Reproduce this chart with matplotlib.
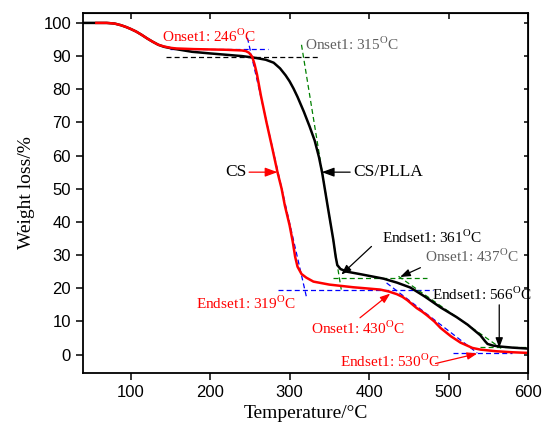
import matplotlib
matplotlib.use("Agg")
import matplotlib.pyplot as plt

plt.rcParams['font.family'] = ['Liberation Serif', 'DejaVu Serif']
plt.rcParams['mathtext.fontset'] = 'custom'
plt.rcParams['mathtext.rm'] = 'Liberation Serif'

# ---- data ----
cs_T = [57, 70, 80, 88, 94, 100, 107, 114, 121, 128, 135, 142, 150, 157, 180, 200, 220,
        240, 245, 249, 253, 256, 259, 264, 271, 278, 285, 290, 294, 300, 304, 307, 310,
        315, 321, 330, 350, 380, 414, 425, 435, 442, 448, 455, 460, 467, 473, 482, 490,
        503, 515, 530, 540, 560, 580, 600]
cs_W = [100, 100, 99.8, 99.3, 98.8, 98.2, 97.4, 96.4, 95.3, 94.3, 93.4, 92.9, 92.5, 92.3,
        92.1, 92.0, 91.9, 91.7, 91.5, 91.0, 89.8, 87.5, 84.5, 78, 70, 62.5, 54.8, 50, 45,
        39, 34, 29.5, 26.5, 24.3, 23.2, 22.0, 21.1, 20.3, 19.6, 19.0, 18.2, 17.4, 16.4,
        15.0, 14.0, 12.9, 11.8, 10.0, 8.0, 5.5, 3.6, 2.0, 1.5, 1.0, 0.7, 0.5]

pl_T = [40, 70, 80, 88, 94, 100, 107, 114, 121, 128, 135, 142, 150, 157, 177, 200, 220,
        240, 256, 270, 280, 288, 295, 300, 305, 310, 318, 325, 331.6, 337, 341, 348, 355,
        358, 360, 364, 372, 390, 418, 435, 452, 470, 490, 510, 524, 540, 546, 549, 556,
        566, 580, 600]
pl_W = [100, 100, 99.8, 99.3, 98.8, 98.2, 97.4, 96.4, 95.3, 94.3, 93.4, 92.8, 92.4, 92.1,
        91.3, 90.8, 90.4, 90.0, 89.5, 88.9, 88.0, 86.3, 84.2, 82.4, 80.2, 77.7, 73.2,
        68.9, 64.5, 59.5, 54.8, 44.6, 34.6, 29.5, 27, 25.8, 25, 24.2, 22.9, 21.7, 20.2,
        17.5, 14.2, 11.3, 9.0, 5.8, 4.0, 3.2, 2.7, 2.4, 2.1, 1.8]

# construction (tangent / baseline) lines: (T0, W0, T1, W1)
blue_lines = [(150, 92.1, 273, 92.1),
              (247, 95.5, 321, 17.6),
              (285, 19.5, 480, 19.5),
              (422, 21.6, 536, 0.5),
              (506, 0.4, 580, 0.4)]
black_lines = [(144, 89.6, 338, 89.6)]
green_lines = [(315, 93.4, 365, 19.6),
               (354, 23.1, 473, 23.1),
               (437, 23.6, 566, 1.9),
               (540, 2.2, 597, 2.2)]

fig = plt.figure(figsize=(5.45, 4.32), dpi=100)
ax = fig.add_axes([0.152, 0.137, 0.817, 0.833])

dash = (0, (4, 2.5))
for x0, y0, x1, y1 in blue_lines:
    ax.plot([x0, x1], [y0, y1], color='#0000ff', lw=0.9, linestyle=dash)
for x0, y0, x1, y1 in black_lines:
    ax.plot([x0, x1], [y0, y1], color='black', lw=0.9, linestyle=dash)
for x0, y0, x1, y1 in green_lines:
    ax.plot([x0, x1], [y0, y1], color='#008000', lw=0.9, linestyle=dash)

ax.plot(pl_T, pl_W, color='black', lw=1.8, solid_joinstyle='round')
ax.plot(cs_T, cs_W, color='#ff0000', lw=1.8, solid_joinstyle='round')

ax.set_xlim(40, 600)
ax.set_ylim(-5.5, 103)
ax.set_xticks([100, 200, 300, 400, 500, 600])
ax.set_yticks(range(0, 101, 10))

for sp in ax.spines.values():
    sp.set_linewidth(1.3)

ax.tick_params(axis='both', which='major', direction='out', length=5, width=1.1,
               labelsize=12)
for lab in ax.get_xticklabels() + ax.get_yticklabels():
    lab.set_fontfamily('Liberation Sans')

ax_top = ax.secondary_xaxis('top')
ax_top.set_xticks([100, 200, 300, 400, 500, 600])
ax_top.tick_params(direction='in', length=4, width=1.1, labeltop=False)
ax_right = ax.secondary_yaxis('right')
ax_right.set_yticks(range(0, 101, 10))
ax_right.tick_params(direction='in', length=3, width=1.1, labelright=False)

ax.set_xlabel('Temperature/°C', fontsize=14, labelpad=4)
ax.set_ylabel('Weight loss/%', fontsize=14, labelpad=6)

deg = r'$^{\mathrm{O}}$C'
fs = 11
red = '#ff0000'
gray = '#606060'

ax.text(139, 95.8, 'Onset1: 246' + deg, color=red, fontsize=fs, va='center', ha='left')
ax.text(319, 93.4, 'Onset1: 315' + deg, color=gray, fontsize=fs, va='center', ha='left')
ax.text(307.6, 15.5, 'Endset1: 319' + deg, color=red, fontsize=fs, va='center', ha='right')
ax.text(416, 35.2, 'Endset1: 361' + deg, color='black', fontsize=fs, va='center', ha='left')
ax.text(470.9, 29.6, 'Onset1: 437' + deg, color=gray, fontsize=fs, va='center', ha='left')
ax.text(479.4, 18.1, 'Endset1: 566' + deg, color='black', fontsize=fs, va='center', ha='left')
ax.text(327.5, 8.0, 'Onset1: 430' + deg, color=red, fontsize=fs, va='center', ha='left')
ax.text(363.3, -2.0, 'Endset1: 530' + deg, color=red, fontsize=fs, va='center', ha='left')

ap = dict(arrowstyle='-|>,head_length=0.6,head_width=0.22', lw=0.9, shrinkA=0, shrinkB=0)

ax.annotate('CS', xy=(284.8, 55), xytext=(245.6, 55), fontsize=12.5, va='center',
            ha='right', arrowprops=dict(ap, color=red))
ax.annotate('CS/PLLA', xy=(340.5, 55), xytext=(379.7, 55), fontsize=12.5, va='center',
            ha='left', arrowprops=dict(ap, color='black'))
ax.annotate('', xy=(365, 24.1), xytext=(403, 32.6), arrowprops=dict(ap, color='black'))
ax.annotate('', xy=(439, 23.4), xytext=(464.6, 26.2), arrowprops=dict(ap, color='black'))
ax.annotate('', xy=(563.7, 2.0), xytext=(563.7, 15), arrowprops=dict(ap, color='black'))
ax.annotate('', xy=(426.6, 18.4), xytext=(388.6, 11.1), arrowprops=dict(ap, color=red))
ax.annotate('', xy=(536, 0.3), xytext=(483.5, -2.7), arrowprops=dict(ap, color=red))

fig.savefig('out.png', dpi=100)
